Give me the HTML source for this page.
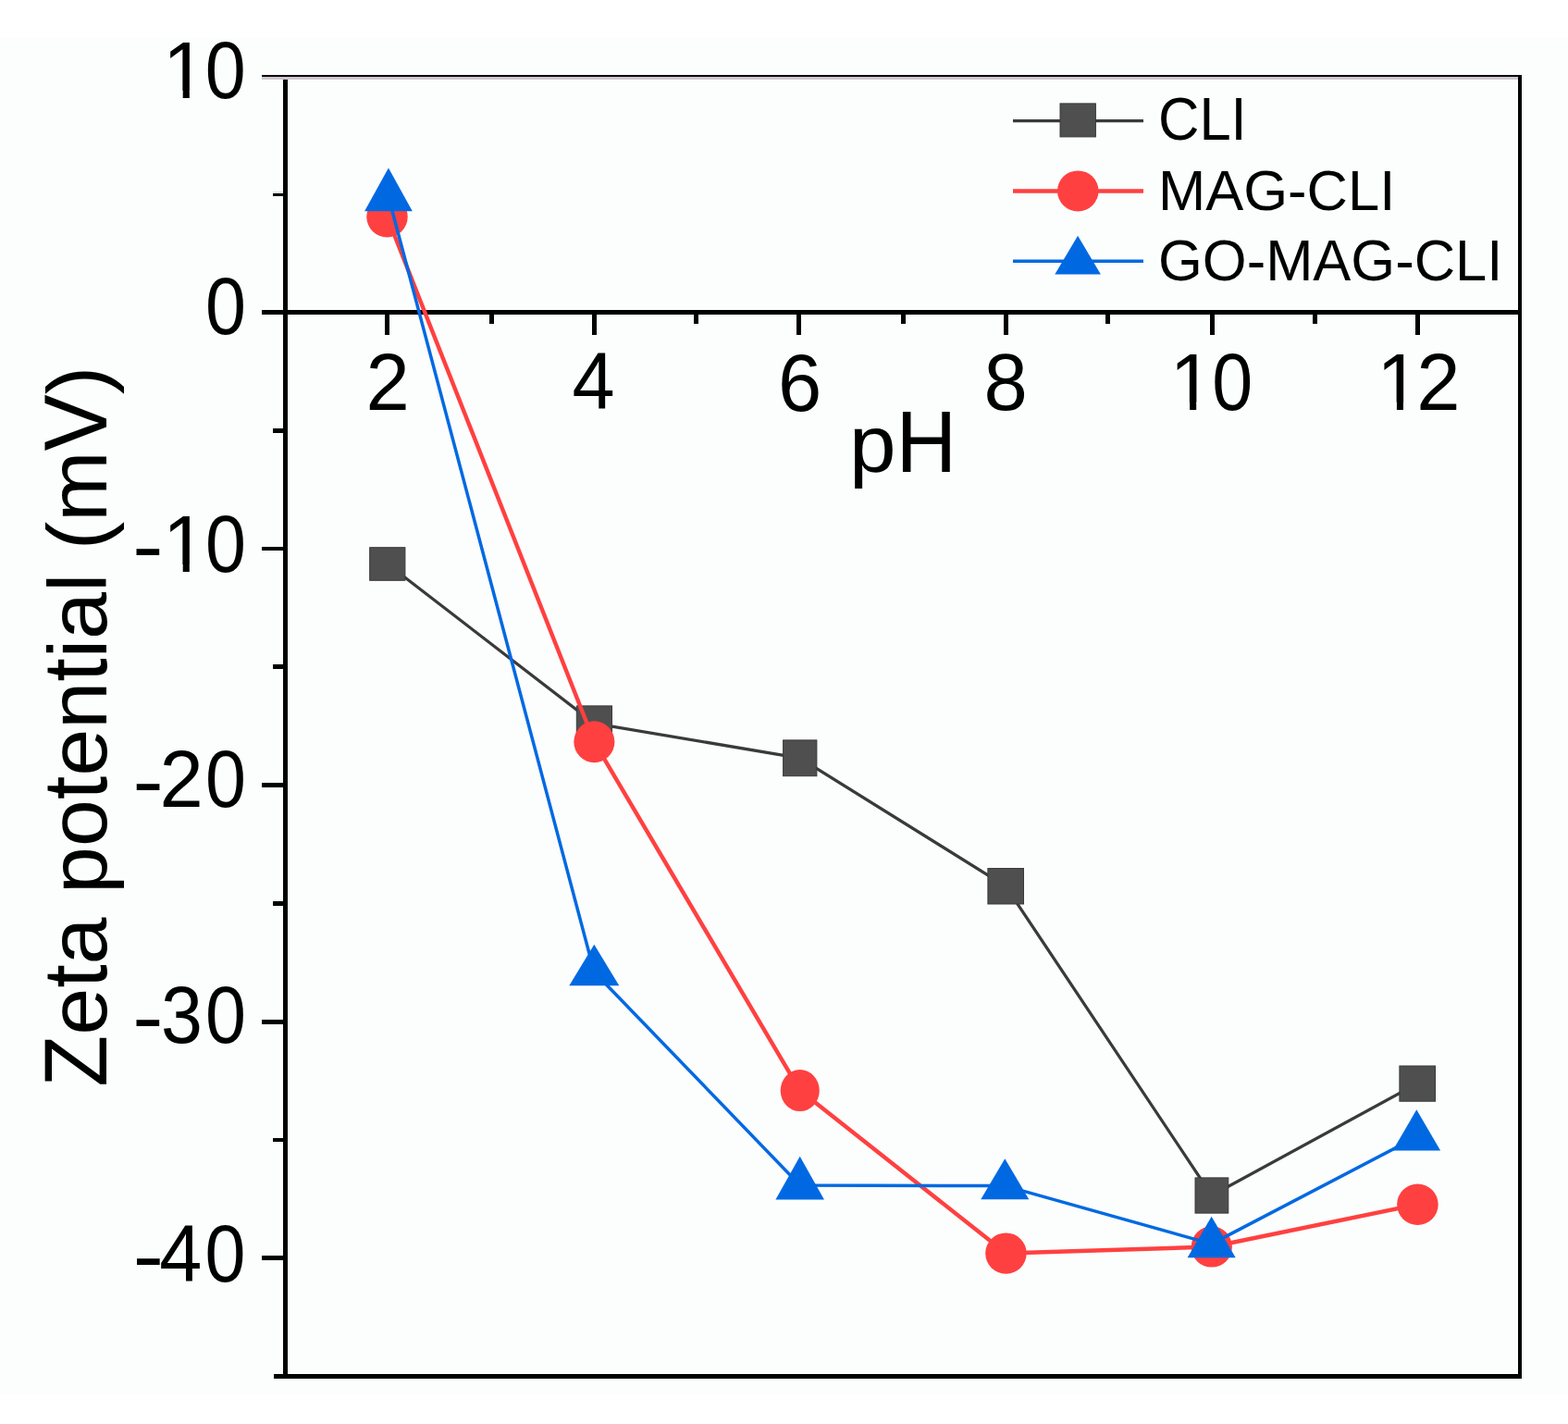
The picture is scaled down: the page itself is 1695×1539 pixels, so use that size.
<!DOCTYPE html>
<html lang="en"><head><meta charset="utf-8"><title>Zeta potential vs pH</title><style>html,body{margin:0;padding:0;background:#fff;overflow:hidden;}svg{display:block;}text{font-family:"Liberation Sans", Arial, Helvetica, sans-serif;fill:#000;}</style></head><body>
<svg width="1695" height="1539" viewBox="0 0 1695 1539">
<defs><clipPath id="c0" clipPathUnits="userSpaceOnUse"><rect x="-123.9" y="-94.2" width="900.0" height="192.2"/><rect x="197.7" y="97.0" width="7.1" height="17.8"/><rect x="220.4" y="-94.2" width="400.0" height="260.0"/><rect x="-218.6" y="-94.2" width="400.0" height="260.0"/></clipPath><clipPath id="c1" clipPathUnits="userSpaceOnUse"><rect x="-123.9" y="418.1" width="900.0" height="192.2"/><rect x="197.7" y="609.3" width="7.1" height="17.8"/><rect x="220.4" y="418.1" width="400.0" height="260.0"/><rect x="-218.6" y="418.1" width="400.0" height="260.0"/></clipPath><clipPath id="c2" clipPathUnits="userSpaceOnUse"><rect x="964.4" y="242.6" width="900.0" height="192.2"/><rect x="1286.1" y="433.8" width="7.1" height="17.8"/><rect x="1308.8" y="242.6" width="400.0" height="260.0"/><rect x="869.7" y="242.6" width="400.0" height="260.0"/></clipPath><clipPath id="c3" clipPathUnits="userSpaceOnUse"><rect x="1188.3" y="242.6" width="900.0" height="192.2"/><rect x="1509.9" y="433.8" width="7.1" height="17.8"/><rect x="1532.6" y="242.6" width="400.0" height="260.0"/><rect x="1093.6" y="242.6" width="400.0" height="260.0"/></clipPath></defs>
<rect x="0" y="0" width="1695" height="1539" fill="#fff"/>
<rect x="0" y="40.5" width="1695" height="1466" fill="rgb(252,253,253)"/>
<g shape-rendering="crispEdges">
<rect x="305.60" y="81.10" width="5.30" height="1408.90" fill="#000"/>
<rect x="1640.50" y="81.10" width="4.80" height="1408.90" fill="#000"/>
<rect x="283.00" y="81.10" width="1362.30" height="1.80" fill="#000"/>
<rect x="283.00" y="82.90" width="1357.50" height="2.70" fill="rgb(206,198,206)"/>
<rect x="296.00" y="1485.40" width="1349.30" height="4.60" fill="#000"/>
<rect x="283.00" y="335.30" width="1357.50" height="4.30" fill="#000"/>
<rect x="295.30" y="209.00" width="10.30" height="2.60" fill="#000"/>
<rect x="295.30" y="206.90" width="10.30" height="2.10" fill="rgb(224,226,226)"/>
<rect x="295.30" y="462.80" width="10.30" height="4.80" fill="#000"/>
<rect x="283.00" y="590.60" width="22.60" height="4.80" fill="#000"/>
<rect x="295.30" y="718.40" width="10.30" height="4.80" fill="#000"/>
<rect x="283.00" y="846.20" width="22.60" height="4.80" fill="#000"/>
<rect x="295.30" y="974.00" width="10.30" height="4.80" fill="#000"/>
<rect x="283.00" y="1101.80" width="22.60" height="4.80" fill="#000"/>
<rect x="295.30" y="1229.60" width="10.30" height="4.80" fill="#000"/>
<rect x="283.00" y="1357.40" width="22.60" height="4.80" fill="#000"/>
<rect x="416.25" y="339.10" width="4.90" height="22.70" fill="#000"/>
<rect x="529.15" y="339.10" width="4.90" height="10.60" fill="#000"/>
<rect x="640.05" y="339.10" width="4.90" height="22.70" fill="#000"/>
<rect x="750.45" y="339.10" width="4.90" height="10.60" fill="#000"/>
<rect x="861.35" y="339.10" width="4.90" height="22.70" fill="#000"/>
<rect x="973.65" y="339.10" width="4.90" height="10.60" fill="#000"/>
<rect x="1084.95" y="339.10" width="4.90" height="22.70" fill="#000"/>
<rect x="1195.25" y="339.10" width="4.90" height="10.60" fill="#000"/>
<rect x="1307.75" y="339.10" width="4.90" height="22.70" fill="#000"/>
<rect x="1418.75" y="339.10" width="4.90" height="10.60" fill="#000"/>
<rect x="1529.65" y="339.10" width="4.90" height="22.70" fill="#000"/>
</g>
<text font-size="85" clip-path="url(#c0)"><tspan x="176.10" y="105.8" font-size="87.21" textLength="47.27" lengthAdjust="spacingAndGlyphs">1</tspan><tspan x="221.82" y="105.8" font-size="87.21" textLength="43.96" lengthAdjust="spacingAndGlyphs">0</tspan></text>
<text font-size="85"><tspan x="221.92" y="361.0" font-size="87.21" textLength="43.96" lengthAdjust="spacingAndGlyphs">0</tspan></text>
<text font-size="85" clip-path="url(#c1)"><tspan x="142.96" y="620.1" font-size="87.21" textLength="33.68" lengthAdjust="spacingAndGlyphs">-</tspan><tspan x="176.10" y="618.1" font-size="87.21" textLength="47.27" lengthAdjust="spacingAndGlyphs">1</tspan><tspan x="221.92" y="618.1" font-size="87.21" textLength="43.96" lengthAdjust="spacingAndGlyphs">0</tspan></text>
<text font-size="85"><tspan x="143.16" y="873.9" font-size="87.21" textLength="33.68" lengthAdjust="spacingAndGlyphs">-</tspan><tspan x="172.56" y="871.9" font-size="87.21" textLength="47.27" lengthAdjust="spacingAndGlyphs">2</tspan><tspan x="222.12" y="871.9" font-size="87.21" textLength="43.96" lengthAdjust="spacingAndGlyphs">0</tspan></text>
<text font-size="85"><tspan x="142.96" y="1129.4" font-size="87.21" textLength="33.68" lengthAdjust="spacingAndGlyphs">-</tspan><tspan x="173.98" y="1127.4" font-size="87.21" textLength="44.91" lengthAdjust="spacingAndGlyphs">3</tspan><tspan x="222.12" y="1127.4" font-size="87.21" textLength="43.96" lengthAdjust="spacingAndGlyphs">0</tspan></text>
<text font-size="85"><tspan x="143.41" y="1386.8" font-size="87.21" textLength="33.68" lengthAdjust="spacingAndGlyphs">-</tspan><tspan x="172.37" y="1384.8" font-size="87.21" textLength="46.09" lengthAdjust="spacingAndGlyphs">4</tspan><tspan x="221.57" y="1384.8" font-size="87.21" textLength="43.96" lengthAdjust="spacingAndGlyphs">0</tspan></text>
<text font-size="85"><tspan x="395.56" y="442.7" font-size="87.21" textLength="47.27" lengthAdjust="spacingAndGlyphs">2</tspan></text>
<text font-size="85"><tspan x="618.42" y="442.3" font-size="87.21" textLength="46.09" lengthAdjust="spacingAndGlyphs">4</tspan></text>
<text font-size="85"><tspan x="841.02" y="444.0" font-size="87.21" textLength="47.27" lengthAdjust="spacingAndGlyphs">6</tspan></text>
<text font-size="85"><tspan x="1063.61" y="443.4" font-size="87.21" textLength="47.27" lengthAdjust="spacingAndGlyphs">8</tspan></text>
<text font-size="85" clip-path="url(#c2)"><tspan x="1264.45" y="442.6" font-size="87.21" textLength="47.27" lengthAdjust="spacingAndGlyphs">1</tspan><tspan x="1310.32" y="442.6" font-size="87.21" textLength="43.96" lengthAdjust="spacingAndGlyphs">0</tspan></text>
<text font-size="85" clip-path="url(#c3)"><tspan x="1488.30" y="442.6" font-size="87.21" textLength="47.27" lengthAdjust="spacingAndGlyphs">1</tspan><tspan x="1531.31" y="442.6" font-size="87.21" textLength="47.27" lengthAdjust="spacingAndGlyphs">2</tspan></text>
<text y="510"><tspan x="918.00" font-size="87.81" textLength="50.61" lengthAdjust="spacingAndGlyphs">p</tspan><tspan x="968.61" font-size="94.46" textLength="65.72" lengthAdjust="spacingAndGlyphs">H</tspan></text>
<g transform="translate(115.2 785.3) rotate(-90)"><text y="0"><tspan x="-389.46" font-size="95.54" textLength="55.95" lengthAdjust="spacingAndGlyphs">Z</tspan><tspan x="-333.50" font-size="89.77" textLength="50.94" lengthAdjust="spacingAndGlyphs">e</tspan><tspan x="-282.56" font-size="98.20" textLength="25.45" lengthAdjust="spacingAndGlyphs">t</tspan><tspan x="-257.11" font-size="89.77" textLength="50.94" lengthAdjust="spacingAndGlyphs">a</tspan><tspan x="-206.17" font-size="91.60" textLength="25.45" lengthAdjust="spacingAndGlyphs"> </tspan><tspan x="-180.72" font-size="88.39" textLength="50.94" lengthAdjust="spacingAndGlyphs">p</tspan><tspan x="-129.77" font-size="89.77" textLength="50.94" lengthAdjust="spacingAndGlyphs">o</tspan><tspan x="-78.83" font-size="98.20" textLength="25.45" lengthAdjust="spacingAndGlyphs">t</tspan><tspan x="-53.38" font-size="89.77" textLength="50.94" lengthAdjust="spacingAndGlyphs">e</tspan><tspan x="-2.44" font-size="89.77" textLength="50.94" lengthAdjust="spacingAndGlyphs">n</tspan><tspan x="48.50" font-size="98.20" textLength="25.45" lengthAdjust="spacingAndGlyphs">t</tspan><tspan x="73.95" font-size="89.77" textLength="20.35" lengthAdjust="spacingAndGlyphs">i</tspan><tspan x="94.30" font-size="89.77" textLength="50.94" lengthAdjust="spacingAndGlyphs">a</tspan><tspan x="145.25" font-size="89.77" textLength="20.35" lengthAdjust="spacingAndGlyphs">l</tspan><tspan x="165.60" font-size="91.60" textLength="25.45" lengthAdjust="spacingAndGlyphs"> </tspan><tspan x="191.05" font-size="91.60" textLength="30.50" lengthAdjust="spacingAndGlyphs">(</tspan><tspan x="221.55" font-size="89.77" textLength="76.30" lengthAdjust="spacingAndGlyphs">m</tspan><tspan x="297.86" font-size="95.54" textLength="61.10" lengthAdjust="spacingAndGlyphs">V</tspan><tspan x="358.95" font-size="91.60" textLength="30.50" lengthAdjust="spacingAndGlyphs">)</tspan></text></g>
<g>
<polyline points="418.8,609.5 642.4,781.8 864.8,819.3 1087.2,957.8 1309.9,1292.0 1532.2,1171.1" fill="none" stroke="#3a3a3a" stroke-width="3.3" stroke-linejoin="round"/>
<rect x="399.7" y="591.7" width="38.2" height="35.6" fill="#4f4f4f" stroke="#3a3a3a" stroke-width="1"/>
<rect x="623.3" y="762.9" width="38.2" height="37.7" fill="#4f4f4f" stroke="#3a3a3a" stroke-width="1"/>
<rect x="846.6" y="799.9" width="36.3" height="38.8" fill="#4f4f4f" stroke="#3a3a3a" stroke-width="1"/>
<rect x="1067.9" y="938.5" width="38.6" height="38.5" fill="#4f4f4f" stroke="#3a3a3a" stroke-width="1"/>
<rect x="1292.0" y="1272.9" width="35.8" height="38.2" fill="#4f4f4f" stroke="#3a3a3a" stroke-width="1"/>
<rect x="1512.9" y="1152.0" width="38.6" height="38.2" fill="#4f4f4f" stroke="#3a3a3a" stroke-width="1"/>
<polyline points="418.5,234.2 642.4,801.8 864.8,1178.6 1087.5,1354.5 1309.8,1347.5 1532.4,1301.7" fill="none" stroke="#ff4040" stroke-width="4.4" stroke-linejoin="round"/>
<ellipse cx="418.50" cy="234.20" rx="22.20" ry="22.20" fill="#ff4040"/>
<ellipse cx="642.35" cy="801.75" rx="22.05" ry="22.45" fill="#ff4040"/>
<ellipse cx="864.75" cy="1178.60" rx="21.05" ry="22.50" fill="#ff4040"/>
<ellipse cx="1087.45" cy="1354.55" rx="22.25" ry="22.15" fill="#ff4040"/>
<ellipse cx="1309.80" cy="1347.50" rx="22.10" ry="22.10" fill="#ff4040"/>
<ellipse cx="1532.40" cy="1301.70" rx="22.30" ry="22.20" fill="#ff4040"/>
<polyline points="420.0,212.8 642.3,1050.5 864.7,1280.9 1086.3,1281.6 1309.7,1344.4 1531.3,1228.8" fill="none" stroke="#0069e2" stroke-width="3.5" stroke-linejoin="round"/>
<polygon points="419.95,181.55 445.80,228.30 394.10,228.30" fill="#0069e2"/>
<polygon points="642.30,1020.85 669.30,1065.20 615.30,1065.20" fill="#0069e2"/>
<polygon points="864.70,1249.85 891.00,1296.40 838.40,1296.40" fill="#0069e2"/>
<polygon points="1086.30,1252.15 1112.30,1296.20 1060.30,1296.20" fill="#0069e2"/>
<polygon points="1309.65,1314.75 1335.70,1359.20 1283.60,1359.20" fill="#0069e2"/>
<polygon points="1531.30,1199.35 1557.10,1243.40 1505.50,1243.40" fill="#0069e2"/>
</g>
<line x1="1095" y1="130.6" x2="1236" y2="130.6" stroke="#3a3a3a" stroke-width="3.4"/>
<rect x="1146.0" y="111.9" width="38.4" height="36.0" fill="#4f4f4f" stroke="#3a3a3a" stroke-width="1"/>
<line x1="1095" y1="206.4" x2="1236" y2="206.4" stroke="#ff4040" stroke-width="4.5"/>
<ellipse cx="1165.25" cy="206.40" rx="22.25" ry="22.00" fill="#ff4040"/>
<line x1="1095" y1="282.3" x2="1236" y2="282.3" stroke="#0069e2" stroke-width="3.4"/>
<polygon points="1165.10,254.65 1189.90,296.60 1140.30,296.60" fill="#0069e2"/>
<text x="1252" y="150.9" font-size="61.5" transform="translate(0 150.9) scale(1 1.06) translate(0 -150.9)">CLI</text>
<text x="1252" y="226.6" font-size="61.5">MAG-CLI</text>
<text x="1252" y="302.8" font-size="61.5" transform="translate(0 302.8) scale(1 1.035) translate(0 -302.8)">GO-MAG-CLI</text>
</svg></body></html>
